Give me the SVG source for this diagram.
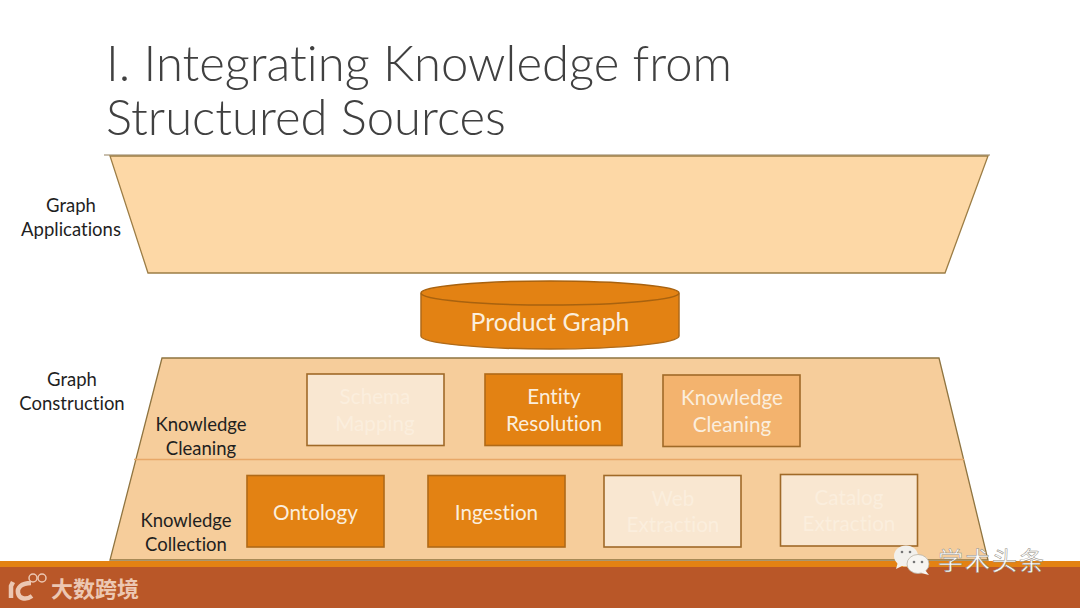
<svg xmlns="http://www.w3.org/2000/svg" width="1080" height="608" viewBox="0 0 1080 608">
<style>
text{font-family:Lato,"Liberation Sans","Noto Sans CJK SC",sans-serif;font-variant-ligatures:none}
.title{font-size:49px;fill:#404040;font-weight:300}
.lbl{font-size:18.500px;fill:#1f1f1f;text-anchor:middle}
.box{font-size:20.700px;text-anchor:middle}
.w{fill:#fbeedd}
.f{fill:#e38213;stroke:#b06a18;stroke-width:1.6}
.m{fill:#f3b36e;stroke:#a06a28;stroke-width:1.6}
.p{fill:#f9e7d1;stroke:#a06a28;stroke-width:1.6}
.wm{fill:#fff;stroke:#8f8a80;stroke-width:.5;font-size:25px}
</style>
<rect width="1080" height="608" fill="#fff"/>
<g id="footer"><rect y="561" width="1080" height="7" fill="#e38213"/><rect y="567" width="1080" height="41" fill="#b95728"/></g>
<text class="title" x="106" y="81">I. Integrating Knowledge from</text>
<text class="title" x="106" y="135">Structured Sources</text>
<g id="graph-applications">
<line x1="104" y1="155" x2="990" y2="155" stroke="#c9bfae" stroke-width="2"/>
<polygon points="110,156 988,156 945,273 148,273" fill="#fdd8a6" stroke="#9c7d45" stroke-width="1.300"/>
<text class="lbl"><tspan x="71" y="211.500">Graph</tspan><tspan x="71" y="235.500">Applications</tspan></text>
</g>
<g id="product-graph">
<path d="M421 294V336C421 343 479 349 550 349S679 343 679 336V294Z" fill="#e38213" stroke="#b06a18" stroke-width="1.500"/>
<ellipse cx="550" cy="293" rx="129" ry="12" fill="#e38213" stroke="#a8620f" stroke-width="1.500"/>
<text class="box w" x="550" y="330.500" style="font-size:24.800px">Product Graph</text>
</g>
<g id="graph-construction">
<polygon points="162,358 939,358 988,560 110,560" fill="#f6cd9b" stroke="#8f7440" stroke-width="1.300"/>
<line x1="134" y1="459.500" x2="964" y2="459.500" stroke="#e8a868" stroke-width="1.300"/>
<text class="lbl"><tspan x="72" y="385.500">Graph</tspan><tspan x="72" y="410">Construction</tspan></text>
</g>
<g id="knowledge-cleaning-label"><text class="lbl"><tspan x="201" y="430.500">Knowledge</tspan><tspan x="201" y="454.500">Cleaning</tspan></text></g>
<g id="knowledge-collection-label"><text class="lbl"><tspan x="186" y="527">Knowledge</tspan><tspan x="186" y="551">Collection</tspan></text></g>
<g id="schema-mapping"><rect class="p" x="307" y="374" width="137" height="71.500"/><text class="box w"><tspan x="375" y="404">Schema</tspan><tspan x="375" y="431">Mapping</tspan></text></g>
<g id="entity-resolution"><rect class="f" x="485" y="374" width="137" height="71.500"/><text class="box w"><tspan x="554" y="404">Entity</tspan><tspan x="554" y="431">Resolution</tspan></text></g>
<g id="knowledge-cleaning"><rect class="m" x="663" y="375" width="137" height="71.500"/><text class="box w"><tspan x="732" y="405">Knowledge</tspan><tspan x="732" y="432">Cleaning</tspan></text></g>
<g id="ontology"><rect class="f" x="247" y="475.500" width="137" height="71.500"/><text class="box w" x="315.500" y="519.500">Ontology</text></g>
<g id="ingestion"><rect class="f" x="428" y="475.500" width="137" height="71.500"/><text class="box w" x="496.500" y="519.500">Ingestion</text></g>
<g id="web-extraction"><rect class="p" x="604" y="475.500" width="137" height="71.500"/><text class="box w"><tspan x="673" y="506">Web</tspan><tspan x="673" y="532">Extraction</tspan></text></g>
<g id="catalog-extraction"><rect class="p" x="780.500" y="474.500" width="137" height="71.500"/><text class="box w"><tspan x="849" y="505">Catalog</tspan><tspan x="849" y="531">Extraction</tspan></text></g>
<g id="watermark-wechat">
<ellipse cx="906" cy="556" rx="12" ry="10.500" fill="#f2f0ec"/><path d="M898 562l-2 7 8-4z" fill="#f2f0ec"/>
<ellipse cx="918" cy="564" rx="11" ry="9.500" fill="#f7f5f1" stroke="#b9b2a6" stroke-width=".8"/><path d="M925 570l4 5-8-2z" fill="#f7f5f1"/>
<circle cx="902" cy="552" r="1.300" fill="#777"/><circle cx="910" cy="552" r="1.300" fill="#777"/><circle cx="914" cy="562" r="1.300" fill="#777"/><circle cx="922" cy="562" r="1.300" fill="#777"/>
<text class="wm" x="938" y="570" style="letter-spacing:2px;font-family:'Noto Sans CJK SC',sans-serif">学术头条</text>
</g>
<g id="watermark-logo" fill="none" stroke="#ecc7b2">
<path d="M13 582l-2 4v12" stroke-width="4.500"/><path d="M31 583c-10 0-14 5-13 10s7 8 14 3" stroke-width="4.500"/>
<circle cx="33" cy="578" r="4" stroke-width="1.500"/><circle cx="42" cy="578" r="4" stroke-width="1.500"/>
<text x="51" y="597" stroke="none" fill="#ecc7b2" style="font-size:22px;font-weight:700;font-family:'Noto Sans CJK SC',sans-serif">大数跨境</text>
</g>
</svg>
